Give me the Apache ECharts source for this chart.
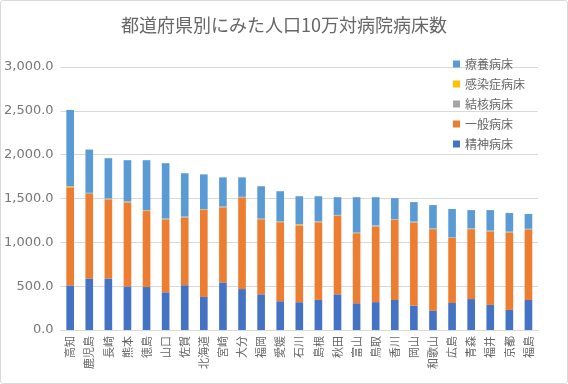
<!DOCTYPE html>
<html><head><meta charset="utf-8">
<script src="https://cdn.jsdelivr.net/npm/echarts@6/dist/echarts.min.js"></script>
<style>
html,body{margin:0;padding:0;background:#fff;}
#c{width:568px;height:384px;box-sizing:border-box;border:1px solid #d9d9d9;border-radius:3px;}
</style></head>
<body><div id="c"></div>
<script>
const prefectures = ['高知','鹿児島','長崎','熊本','徳島','山口','佐賀','北海道','宮崎','大分','福岡','愛媛','石川','島根','秋田','富山','鳥取','香川','岡山','和歌山','広島','青森','福井','京都','福島'];
const seishin  = [509,588,588,497,490,430,511,377,543,467,407,328,317,343,407,305,318,342,278,218,308,353,286,229,342];
const ippan    = [1112,965,901,958,867,829,772,995,855,1044,856,901,874,886,897,799,862,914,947,932,744,797,838,884,801];
const kekkaku  = [8,10,10,12,8,9,8,6,8,6,7,10,6,9,7,6,8,7,10,5,7,8,8,9,10];
const kansen   = [12,2,3,2,3,3,3,2,2,2,1,2,10,3,2,2,4,2,2,3,1,2,2,1,2];
const ryoyo    = [869,493,458,468,569,632,494,395,333,222,369,342,319,285,202,403,323,239,222,267,320,208,234,211,168];
const yTicks = [0,500,1000,1500,2000,2500,3000];

const names = ['精神病床','一般病床','結核病床','感染症病床','療養病床'];
const colors = ['#4472C4','#ED7D31','#A5A5A5','#FFC000','#5B9BD5'];
const values = [seishin, ippan, kekkaku, kansen, ryoyo];
const font = '"Noto Sans CJK JP","Noto Sans",sans-serif';

const chart = echarts.init(document.getElementById('c'));
chart.setOption({
  animation:false,
  textStyle:{fontFamily:font},
  title:{text:'都道府県別にみた人口10万対病院病床数',left:'center',top:10,
    textStyle:{fontSize:18,fontWeight:'normal',color:'#666666',fontFamily:font}},
  legend:{orient:'vertical',left:447,top:52,itemWidth:7,itemHeight:7,itemGap:8,icon:'rect',
    data:names.slice().reverse(),
    textStyle:{fontSize:12,color:'#666666',fontFamily:font}},
  grid:{left:59,right:29,top:66,bottom:53,containLabel:false},
  xAxis:{type:'category',data:prefectures,
    axisLine:{lineStyle:{color:'#d9d9d9'}},axisTick:{show:false},
    axisLabel:{rotate:90,interval:0,fontSize:11,color:'#666666',margin:6,fontFamily:font}},
  yAxis:{type:'value',min:yTicks[0],max:yTicks[yTicks.length-1],interval:500,
    axisLine:{show:false},axisTick:{show:false},
    splitLine:{lineStyle:{color:'#d9d9d9'}},
    axisLabel:{fontSize:13,color:'#777777',margin:7,fontFamily:'"DejaVu Sans",sans-serif',
      formatter:v=>v.toLocaleString('en-US',{minimumFractionDigits:1,maximumFractionDigits:1})}},
  series:names.map((n,i)=>({name:n,type:'bar',stack:'total',barWidth:'40%',
    itemStyle:{color:colors[i]},data:values[i]}))
});
</script></body></html>
